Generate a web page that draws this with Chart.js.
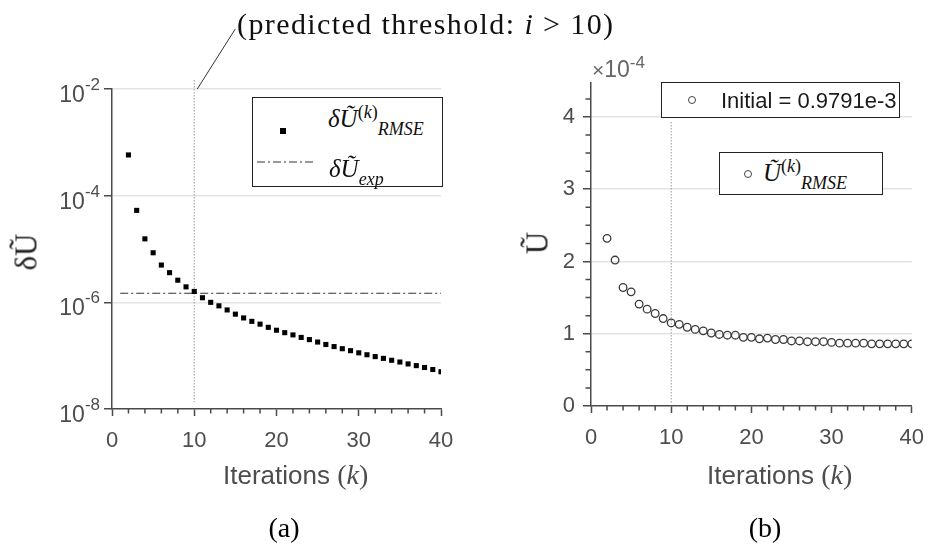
<!DOCTYPE html>
<html lang="en">
<head>
<meta charset="UTF-8">
<title>RMSE convergence over iterations</title>
<script src="https://cdn.jsdelivr.net/npm/chart.js@4"></script>
<style>
  body { margin: 0; background: #fff; }
  #wrap { position: relative; width: 936px; height: 544px; overflow: hidden; font-family: "Liberation Sans", Arial, sans-serif; }
  canvas { position: absolute; top: 0; }
  .lbl { position: absolute; white-space: nowrap; line-height: 1; }
  .serif { font-family: "Liberation Serif", "Times New Roman", serif; }
  .box { position: absolute; border: 1.5px solid #222; background: #fff; box-sizing: border-box; }
  sup, sub { font-size: 0.72em; line-height: 0; }
  sup { vertical-align: 0.5em; }
  sub { vertical-align: -0.45em; }
  .sq { position: absolute; width: 6px; height: 6px; background: #000; }
  .circ { position: absolute; width: 8px; height: 8px; border: 1.3px solid #444; border-radius: 50%; box-sizing: border-box; }
</style>
</head>
<body>
<div id="wrap">
  <canvas id="chartA" width="468" height="544" style="left:0"></canvas>
  <canvas id="chartB" width="468" height="544" style="left:468px"></canvas>

  <div class="lbl serif" style="left:237px; top:9px; font-size:30px; color:#111; letter-spacing:1.4px">(predicted threshold: <i>i</i> &gt; 10)</div>

  <!-- axis titles -->
  <div class="lbl serif" style="left:26px; top:252px; font-size:31px; color:#222; transform:translate(-50%,-50%) rotate(-90deg)">δŨ</div>
  <div class="lbl serif" style="left:537px; top:243px; font-size:31px; color:#222; transform:translate(-50%,-50%) rotate(-90deg)">Ũ</div>
  <div class="lbl" style="left:223px; top:461px; font-size:26px; color:#4d4d4d">Iterations <span class="serif" style="font-size:28px">(<i>k</i>)</span></div>
  <div class="lbl" style="left:707px; top:461px; font-size:26px; color:#4d4d4d">Iterations <span class="serif" style="font-size:28px">(<i>k</i>)</span></div>
  <div class="lbl serif" style="left:284px; top:514px; font-size:28px; color:#000; transform:translateX(-50%)">(a)</div>
  <div class="lbl serif" style="left:765px; top:514px; font-size:28px; color:#000; transform:translateX(-50%)">(b)</div>
  <div class="lbl" style="left:592px; top:58px; font-size:23px; color:#666"><span style="font-size:21px">×</span>10<span style="font-size:17px; position:relative; top:-9px">-4</span></div>

  <!-- legend (a) -->
  <div class="box" style="left:252px; top:97px; width:191px; height:90px"></div>
  <div class="sq" style="left:280px; top:128px"></div>
  <svg style="position:absolute; left:256px; top:158px" width="60" height="8"><line x1="1" y1="4" x2="59" y2="4" stroke="#333" stroke-width="1.2" stroke-dasharray="8 3 2 3"/></svg>
  <div class="lbl serif" style="left:328px; top:106px; font-size:25px; font-style:italic; color:#111">δŨ<sup style="font-style:normal">(<i>k</i>)</sup><sub>RMSE</sub></div>
  <div class="lbl serif" style="left:329px; top:156px; font-size:25px; font-style:italic; color:#111">δŨ<sub>exp</sub></div>

  <!-- legends (b) -->
  <div class="box" style="left:661px; top:82px; width:239px; height:36px"></div>
  <div class="circ" style="left:688px; top:96px"></div>
  <div class="lbl" style="left:721px; top:90px; font-size:22px; color:#1a1a1a">Initial = 0.9791e-3</div>
  <div class="box" style="left:719px; top:152px; width:164px; height:43px"></div>
  <div class="circ" style="left:744px; top:170px"></div>
  <div class="lbl serif" style="left:763px; top:160px; font-size:25px; font-style:italic; color:#111">Ũ<sup style="font-style:normal">(<i>k</i>)</sup><sub>RMSE</sub></div>
</div>

<script>
// ---- data ----
const iterations = [2, 3, 4, 5, 6, 7, 8, 9, 10, 11, 12, 13, 14, 15, 16, 17, 18, 19, 20, 21,
                    22, 23, 24, 25, 26, 27, 28, 29, 30, 31, 32, 33, 34, 35, 36, 37, 38, 39, 40];
const deltaRmse = [5.8e-4, 5.3e-5, 1.55e-5, 8.5e-6, 5.0e-6, 3.6e-6, 2.6e-6, 1.95e-6, 1.6e-6, 1.22e-6,
                   1.0e-6, 8.6e-7, 7.2e-7, 6.0e-7, 5.1e-7, 4.4e-7, 3.9e-7, 3.4e-7, 3.0e-7, 2.7e-7,
                   2.45e-7, 2.2e-7, 2.0e-7, 1.8e-7, 1.62e-7, 1.48e-7, 1.35e-7, 1.24e-7, 1.13e-7, 1.04e-7,
                   9.6e-8, 8.9e-8, 8.2e-8, 7.6e-8, 7.0e-8, 6.5e-8, 6.0e-8, 5.5e-8, 5.0e-8];
// RMSE values in units of 1e-4
const rmseE4 = [2.32, 2.02, 1.64, 1.58, 1.41, 1.34, 1.28, 1.21, 1.15, 1.13,
                1.09, 1.06, 1.04, 1.01, 0.99, 0.98, 0.98, 0.95, 0.95, 0.93,
                0.94, 0.92, 0.92, 0.90, 0.90, 0.89, 0.89, 0.89, 0.88, 0.87,
                0.87, 0.87, 0.87, 0.86, 0.86, 0.86, 0.86, 0.86, 0.86];
const deltaExp = 1.48e-6;
const expRange = [1, 40];
const thresholdK = 10;
const thresholdSpanA = [1.47e-2, 1.35e-8];
const thresholdSpanB = [3.93, 0.04];

const xTicks = [0, 10, 20, 30, 40];
const xMinorStep = 2;
const leftYTicks = [1e-8, 1e-6, 1e-4, 1e-2];
const rightYTicks = [0, 1, 2, 3, 4];
const rightYMinorStep = 0.25;
const rightYMax = 4.47;

const axisColor = '#4a4a4a';
const labelColor = '#4d4d4d';
const gridColor = '#e4e4e4';
const tickFont = { family: "'Liberation Sans', Arial, sans-serif", size: 22 };

// minor tick marks (shorter than the library's major ticks)
function makeMinorTicks(yMinor) {
  return {
    id: 'minorTicks',
    afterDraw(chart) {
      const ctx = chart.ctx;
      const xs = chart.scales.x, ys = chart.scales.y;
      ctx.save();
      ctx.strokeStyle = axisColor;
      ctx.lineWidth = 1.5;
      ctx.beginPath();
      for (let v = 0; v <= 40; v += xMinorStep) {
        if (xTicks.includes(v)) continue;
        const px = xs.getPixelForValue(v);
        ctx.moveTo(px, ys.bottom);
        ctx.lineTo(px, ys.bottom + 4.5);
      }
      yMinor.forEach(v => {
        const py = ys.getPixelForValue(v);
        ctx.moveTo(xs.left, py);
        ctx.lineTo(xs.left - 5.5, py);
      });
      ctx.stroke();
      ctx.restore();
    }
  };
}

// "10^n" labels for the log axis
const powerLabels = {
  id: 'powerLabels',
  afterDraw(chart) {
    const ctx = chart.ctx;
    const y = chart.scales.y;
    ctx.save();
    ctx.fillStyle = labelColor;
    ctx.textBaseline = 'alphabetic';
    ctx.textAlign = 'right';
    leftYTicks.forEach(v => {
      const py = y.getPixelForValue(v);
      const exp = String(Math.round(Math.log10(v)));
      ctx.font = "17px 'Liberation Sans', Arial, sans-serif";
      const ew = ctx.measureText(exp).width;
      ctx.fillText(exp, 100, py + 1);
      ctx.font = "23px 'Liberation Sans', Arial, sans-serif";
      ctx.fillText('10', 100 - ew, py + 13);
    });
    ctx.restore();
  }
};

// leader line from the threshold line up to the annotation text
const leader = {
  id: 'leader',
  afterDraw(chart) {
    const ctx = chart.ctx;
    const sx = chart.scales.x.getPixelForValue(thresholdK) + 3;
    const sy = chart.scales.y.top;
    ctx.save();
    ctx.strokeStyle = '#333';
    ctx.lineWidth = 1;
    ctx.beginPath();
    ctx.moveTo(sx, sy);
    ctx.lineTo(sx + 38, sy - 60);
    ctx.stroke();
    ctx.restore();
  }
};

const hideBottomGrid = (min) => (c) => (c.tick && Math.abs(c.tick.value - min) < 1e-12 ? 'rgba(0,0,0,0)' : gridColor);

const xScale = (h) => ({
  type: 'linear',
  min: 0,
  max: 40,
  afterBuildTicks: s => { s.ticks = xTicks.map(v => ({ value: v })); },
  afterFit: s => { s.height = h; },
  grid: { display: true, drawOnChartArea: false, drawTicks: true, tickLength: 7, tickColor: axisColor, tickWidth: 1.5 },
  border: { display: true, color: axisColor, width: 1.5 },
  ticks: { color: labelColor, font: tickFont, padding: 12, maxRotation: 0, autoSkip: false }
});

const yGrid = (min) => ({
  color: hideBottomGrid(min), lineWidth: 1.5,
  drawTicks: true, tickLength: 8, tickColor: axisColor, tickWidth: 1.5
});

const baseOptions = {
  responsive: false,
  animation: false,
  plugins: { legend: { display: false }, tooltip: { enabled: false } }
};

// ---- (a) log scale ----
new Chart(document.getElementById('chartA'), {
  type: 'scatter',
  data: {
    datasets: [
      {
        data: iterations.map((k, i) => ({ x: k, y: deltaRmse[i] })),
        pointStyle: 'rect',
        pointRadius: 3.6,
        backgroundColor: '#000',
        borderColor: '#000',
        borderWidth: 0
      },
      {
        data: expRange.map(k => ({ x: k, y: deltaExp })),
        showLine: true,
        pointRadius: 0,
        borderColor: '#333',
        borderWidth: 1.2,
        borderDash: [8, 3, 2, 3]
      },
      {
        data: thresholdSpanA.map(v => ({ x: thresholdK, y: v })),
        showLine: true,
        pointRadius: 0,
        borderColor: '#999',
        borderWidth: 1,
        borderDash: [1.5, 1.5],
        clip: false
      }
    ]
  },
  options: {
    ...baseOptions,
    layout: { padding: { left: 0, top: 89, right: 27, bottom: 0 } },
    scales: {
      x: xScale(135),
      y: {
        type: 'logarithmic',
        min: 1e-8,
        max: 1e-2,
        afterBuildTicks: s => { s.ticks = leftYTicks.map(v => ({ value: v })); },
        afterFit: s => { s.width = 112; },
        grid: yGrid(1e-8),
        border: { display: true, color: axisColor, width: 1.5 },
        ticks: { callback: () => '', font: tickFont }
      }
    }
  },
  plugins: [makeMinorTicks([]), powerLabels, leader]
});

// ---- (b) linear scale ----
const rightYMinor = [];
for (let i = 0; i * rightYMinorStep <= rightYMax; i++) {
  const v = i * rightYMinorStep;
  if (!rightYTicks.includes(v)) rightYMinor.push(v);
}

new Chart(document.getElementById('chartB'), {
  type: 'scatter',
  data: {
    datasets: [
      {
        data: iterations.map((k, i) => ({ x: k, y: rmseE4[i] })),
        pointStyle: 'circle',
        pointRadius: 3.8,
        backgroundColor: 'rgba(0,0,0,0)',
        borderColor: '#3a3a3a',
        borderWidth: 1.3
      },
      {
        data: thresholdSpanB.map(v => ({ x: thresholdK, y: v })),
        showLine: true,
        pointRadius: 0,
        borderColor: '#999',
        borderWidth: 1,
        borderDash: [1.5, 1.5],
        clip: false
      }
    ]
  },
  options: {
    ...baseOptions,
    layout: { padding: { left: 0, top: 83, right: 15, bottom: 0 } },
    scales: {
      x: xScale(138),
      y: {
        type: 'linear',
        min: 0,
        max: rightYMax,
        afterBuildTicks: s => { s.ticks = rightYTicks.map(v => ({ value: v })); },
        afterFit: s => { s.width = 123; },
        grid: yGrid(0),
        border: { display: true, color: axisColor, width: 1.5 },
        ticks: { color: labelColor, font: tickFont, padding: 8 }
      }
    }
  },
  plugins: [makeMinorTicks(rightYMinor)]
});
</script>
</body>
</html>
